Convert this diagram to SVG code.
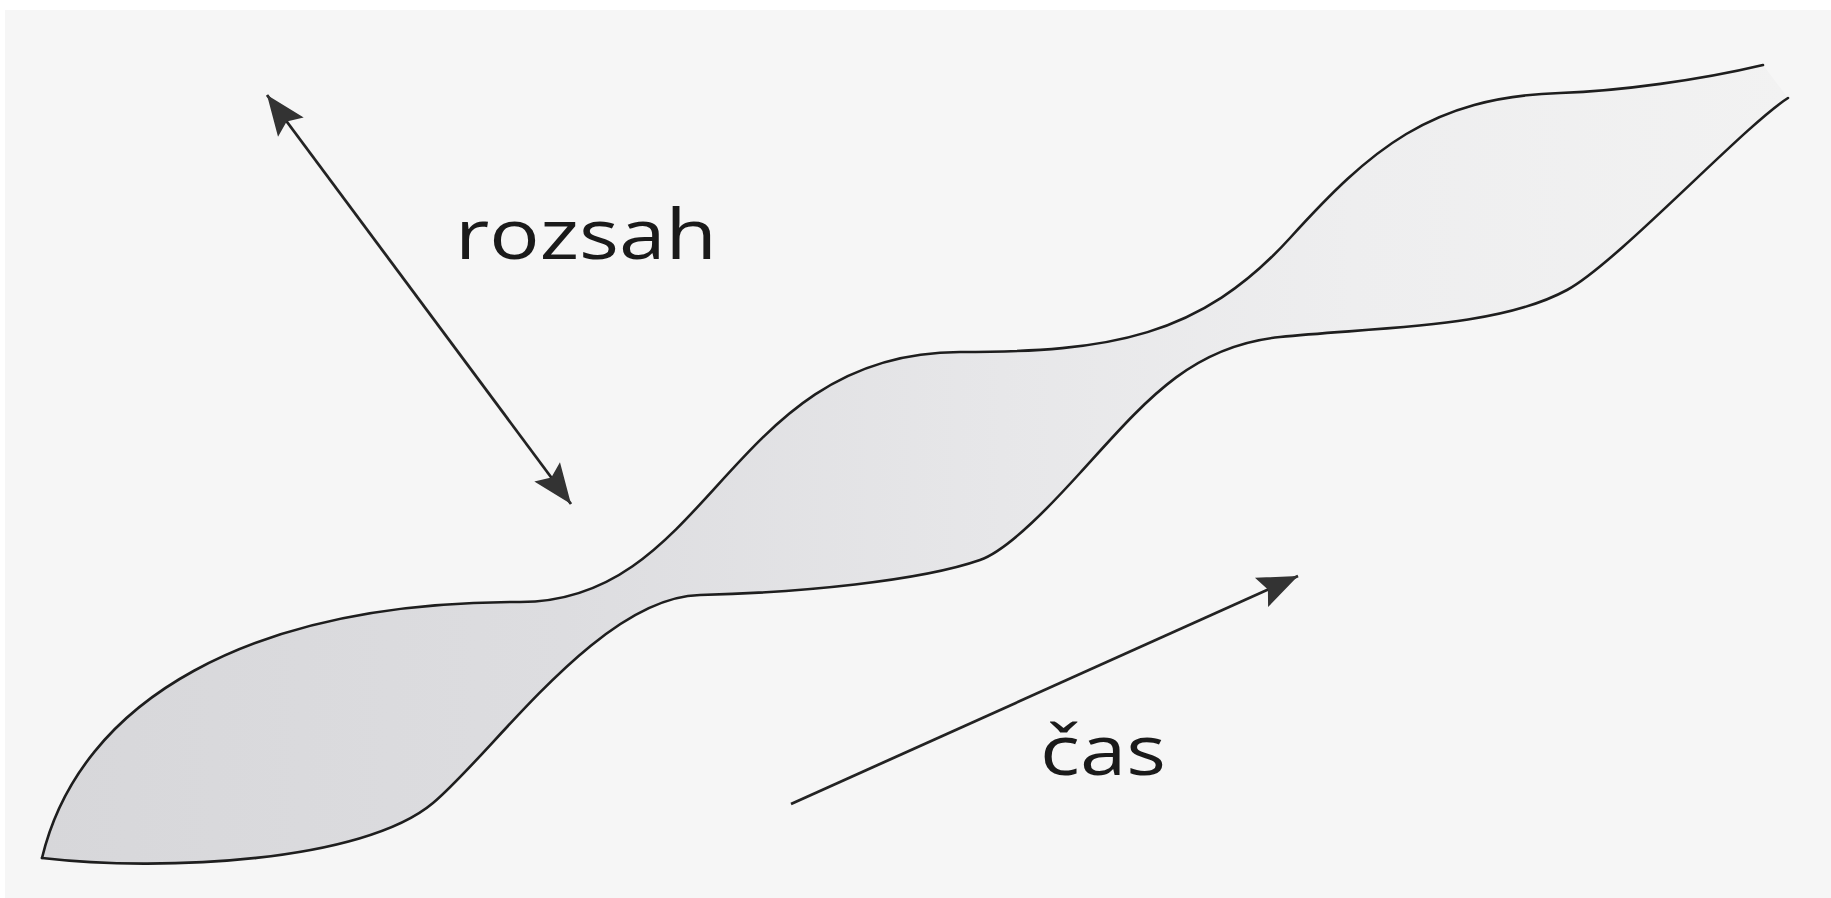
<svg xmlns="http://www.w3.org/2000/svg" width="1831" height="898" viewBox="0 0 1831 898">
  <style>
    .edge { fill: none; stroke: #1e1e1e; stroke-width: 2.6; stroke-linecap: round; stroke-linejoin: round; }
    .arrow { fill: none; stroke: #232323; stroke-width: 2.8; }
    .label { font-family: "Open Sans", "Noto Sans", "DejaVu Sans", sans-serif; font-size: 70px; fill: #1a1a1a; }
  </style>
  <defs>
    <linearGradient id="bandFill" gradientUnits="userSpaceOnUse" x1="40" y1="0" x2="1790" y2="0">
      <stop offset="0" stop-color="#d7d7da"/>
      <stop offset="0.3" stop-color="#dddde0"/>
      <stop offset="0.55" stop-color="#e7e7e9"/>
      <stop offset="0.75" stop-color="#eeeeef"/>
      <stop offset="1" stop-color="#f2f2f2"/>
    </linearGradient>
    <marker id="head" viewBox="-42 -20 44 40" refX="0" refY="0" markerWidth="44" markerHeight="40" markerUnits="userSpaceOnUse" orient="auto-start-reverse">
      <path d="M0,0 L-40,-16 L-33,0 L-40,16 Z" fill="#333333"/>
    </marker>
  </defs>

  <rect x="0" y="0" width="1831" height="898" fill="#ffffff"/>
  <rect x="5" y="10" width="1826" height="888" fill="#f6f6f6"/>

  <g id="band">
    <path fill="url(#bandFill)" stroke="none" d="M42,858 C80,700 250,602 520,602 C712,602 728,352 960,352 C1110,352 1200,337 1290,238 C1370,150 1430,97 1560,93 C1620,91 1700,80 1763,65 L1788,98 C1745,125 1617,263 1567,290 C1497,328 1380,327 1280,337 C1190,346 1145,401.5 1080,473 C1055,500.5 1010,549.2 980,560 C920,581 800,592.5 700,595 C600,597 493,753 433,803 C363,862 162,872 42,858 Z"/>
    <path class="edge" d="M42,858 C80,700 250,602 520,602 C712,602 728,352 960,352 C1110,352 1200,337 1290,238 C1370,150 1430,97 1560,93 C1620,91 1700,80 1763,65"/>
    <path class="edge" d="M42,858 C162,872 363,862 433,803 C493,753 600,597 700,595 C800,592.5 920,581 980,560 C1010,549.2 1055,500.5 1080,473 C1145,401.5 1190,346 1280,337 C1380,327 1497,328 1567,290 C1617,263 1745,125 1788,98"/>
  </g>

  <g id="connectors">
    <line id="arrow-rozsah" class="arrow" x1="267" y1="95" x2="571" y2="504" marker-start="url(#head)" marker-end="url(#head)"/>
    <line id="arrow-cas" class="arrow" x1="791" y1="804" x2="1298" y2="576" marker-end="url(#head)"/>
  </g>

  <g id="label-rozsah">
    <text class="label" x="455" y="259" textLength="262" lengthAdjust="spacingAndGlyphs">rozsah</text>
  </g>
  <g id="label-cas">
    <text class="label" x="1040" y="775" textLength="126" lengthAdjust="spacingAndGlyphs">čas</text>
  </g>
</svg>
